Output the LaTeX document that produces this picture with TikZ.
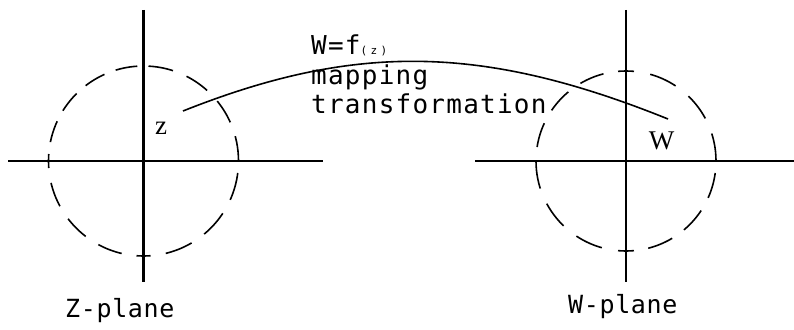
\documentclass[tikz,border=0pt]{standalone}
\usepackage{fontspec}
\newfontfamily\labelmono[LetterSpace=4.8]{DejaVu Sans Mono}
\newfontfamily\planemono[LetterSpace=2.6]{DejaVu Sans Mono}
\newfontfamily\tinymono[LetterSpace=30]{DejaVu Sans Mono}
\newfontfamily\pointserif{Liberation Serif}
\begin{document}
\begin{tikzpicture}[x=1pt,y=-1pt,
  axis/.style={line width=2.2pt},
  circdash/.style={line width=1.6pt},
  mapcurve/.style={line width=1.6pt},
  maptext/.style={inner sep=0pt,anchor=base west,font=\labelmono\fontsize{26}{29}\selectfont},
  planetext/.style={inner sep=0pt,anchor=base west,font=\planemono\fontsize{25}{28}\selectfont},
  pointlabel/.style={inner sep=0pt,font=\pointserif\fontsize{27}{27}\selectfont}]
\useasboundingbox (0,0) rectangle (794,329);

% ---- Z-plane: axes and dashed unit circle ----
\coordinate (zc) at (143.5,161);
\draw[axis] (8,161) -- (323,161);
\draw[axis] (143.5,10) -- (143.5,282);
\draw[circdash,dash pattern=on 22pt off 12pt,dash phase=15pt]
  (zc) ++(180:95) arc[start angle=180,end angle=270,radius=95];
\draw[circdash,dash pattern=on 25pt off 14.7pt,dash phase=34.7pt]
  (zc) ++(270:95) arc[start angle=270,end angle=360,radius=95];
\draw[circdash,dash pattern=on 28pt off 15.4pt,dash phase=31.4pt]
  (zc) ++(0:95) arc[start angle=0,end angle=90,radius=95];
\draw[circdash,dash pattern=on 25pt off 15.05pt,dash phase=18pt]
  (zc) ++(90:95) arc[start angle=90,end angle=180,radius=95];

% ---- W-plane: axes and dashed circle ----
\coordinate (wc) at (626,161);
\draw[axis] (475,161) -- (794,161);
\draw[axis] (626,10) -- (626,282);
\draw[circdash,dash pattern=on 25pt off 14.8pt,dash phase=25.8pt]
  (wc) ++(180:90) arc[start angle=180,end angle=270,radius=90];
\draw[circdash,dash pattern=on 28pt off 16.5pt,dash phase=20pt]
  (wc) ++(270:90) arc[start angle=270,end angle=360,radius=90];
\draw[circdash,dash pattern=on 26pt off 14.47pt,dash phase=28.47pt]
  (wc) ++(0:90) arc[start angle=0,end angle=90,radius=90];
\draw[circdash,dash pattern=on 28pt off 16.47pt,dash phase=20pt]
  (wc) ++(90:90) arc[start angle=90,end angle=180,radius=90];

% ---- points and the mapping curve ----
\node[pointlabel] (zlab) at (161,128.5) {z};
\node[pointlabel] (wlab) at (661.5,141) {W};
\coordinate (zpt) at (183,111);
\coordinate (wpt) at (668,119);
\draw[mapcurve] (zpt) .. controls (354,43) and (482,44) .. (wpt);

% ---- captions ----
\node[maptext] (fmap) at (311,55) {W=f{\tinymono\fontsize{11}{11}\selectfont(z)}};
\node[maptext] (mapping) at (311,84) {mapping};
\node[maptext] (transf) at (311,113) {transformation};
\node[planetext] (zplane) at (65,317) {Z-plane};
\node[planetext] (wplane) at (568,313) {W-plane};
\end{tikzpicture}
\end{document}
